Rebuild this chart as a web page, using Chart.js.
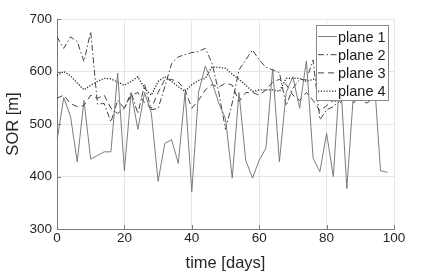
<!DOCTYPE html>
<html>
<head>
<meta charset="utf-8">
<script src="https://cdn.jsdelivr.net/npm/chart.js@4/dist/chart.umd.min.js"></script>
<style>
    html, body { margin: 0; padding: 0; background: #fff; }
    #wrap { width: 436px; height: 273px; }
</style>
</head>
<body>
<div id="wrap"><canvas id="c" width="436" height="273"></canvas></div>
<script>
// sample days (every 2 days)
const days = [0, 2, 4, 6, 8, 10, 12, 14, 16, 18, 20, 22, 24, 26, 28, 30, 32, 34, 36, 38,
    40, 42, 44, 46, 48, 50, 52, 54, 56, 58, 60, 62, 64, 66, 68, 70, 72, 74, 76, 78,
    80, 82, 84, 86, 88, 90, 92, 94, 96, 98];

const plane1 = [469, 550, 515, 428, 545, 433, 440, 447, 447, 597, 411, 560, 490, 560, 520, 391, 463, 470, 425, 560,
    371, 560, 610, 580, 540, 510, 397, 560, 431, 397, 431, 454, 605, 428, 560, 590, 530, 620, 435, 409,
    482, 400, 600, 377, 560, 570, 560, 600, 411, 408];
const plane2 = [666, 644, 666, 657, 619, 676, 538, 539, 504, 545, 530, 560, 520, 575, 527, 530, 571, 615, 628, 632,
    636, 638, 644, 616, 560, 490, 540, 603, 622, 641, 622, 608, 603, 598, 535, 568, 585, 584, 622, 508,
    527, 533, 545, 560, 540, 555, 550, 580, 560, 555];
const plane3 = [549, 555, 539, 533, 535, 555, 549, 555, 530, 520, 530, 555, 560, 540, 530, 560, 585, 585, 580, 565,
    530, 545, 565, 575, 570, 578, 574, 543, 560, 560, 555, 565, 580, 585, 575, 555, 545, 560, 545, 525,
    535, 545, 540, 555, 550, 545, 540, 550, 545, 545];
const plane4 = [592, 600, 592, 578, 565, 574, 581, 587, 586, 580, 574, 581, 590, 568, 555, 581, 590, 581, 571, 562,
    575, 583, 587, 609, 608, 606, 595, 585, 574, 562, 565, 565, 565, 562, 587, 587, 587, 581, 585, 590,
    580, 575, 590, 585, 580, 575, 580, 585, 580, 580];

const seriesNames = ['plane 1', 'plane 2', 'plane 3', 'plane 4'];
const xTicks = [0, 20, 40, 60, 80, 100];
const yTicks = [300, 400, 500, 600, 700];

const FONT = '"Liberation Sans", Arial, sans-serif';

function pts(vals) {
    return vals.map((v, i) => ({ x: days[i], y: v }));
}

const lineStyles = [
    { color: '#6e6e6e', dash: [], width: 0.9 },
    { color: '#2e2e2e', dash: [6, 2.5, 1.5, 2.5], width: 0.9 },
    { color: '#2e2e2e', dash: [6, 4], width: 0.9 },
    { color: '#262626', dash: [1.2, 1.6], width: 1.3 }
];

const datasets = [plane1, plane2, plane3, plane4].map((vals, i) => ({
    label: seriesNames[i],
    data: pts(vals),
    borderColor: lineStyles[i].color,
    borderDash: lineStyles[i].dash,
    borderWidth: lineStyles[i].width,
    pointRadius: 0,
    tension: 0,
    fill: false
}));

// inward tick marks + legend box drawn inside the plot area
const extras = {
    id: 'extras',
    afterDraw(chart) {
        const ctx = chart.ctx;
        const xs = chart.scales.x, ys = chart.scales.y;
        const area = chart.chartArea;
        ctx.save();
        ctx.strokeStyle = '#7a7a7a';
        ctx.lineWidth = 1;
        ctx.beginPath();
        xTicks.forEach(t => {
            const px = Math.round(xs.getPixelForValue(t)) + 0.5;
            ctx.moveTo(px, area.bottom);
            ctx.lineTo(px, area.bottom - 4);
        });
        yTicks.forEach(t => {
            const py = Math.round(ys.getPixelForValue(t)) + 0.5;
            ctx.moveTo(area.left, py);
            ctx.lineTo(area.left + 4, py);
        });
        ctx.stroke();

        // legend
        const bx = 316.5, by = 25.5, bw = 72, bh = 75;
        ctx.fillStyle = '#fff';
        ctx.fillRect(bx, by, bw, bh);
        ctx.strokeStyle = '#8a8a8a';
        ctx.lineWidth = 1;
        ctx.strokeRect(bx, by, bw, bh);
        ctx.font = '14.5px ' + FONT;
        ctx.textBaseline = 'middle';
        ctx.textAlign = 'left';
        seriesNames.forEach((name, i) => {
            const y = 36.5 + i * 18.2;
            ctx.strokeStyle = lineStyles[i].color;
            ctx.lineWidth = lineStyles[i].width;
            ctx.setLineDash(lineStyles[i].dash);
            ctx.beginPath();
            ctx.moveTo(318, y);
            ctx.lineTo(337, y);
            ctx.stroke();
            ctx.setLineDash([]);
            ctx.fillStyle = '#1a1a1a';
            ctx.fillText(name, 338, y + 1);
        });
        ctx.restore();
    }
};

new Chart(document.getElementById('c'), {
    type: 'line',
    data: { datasets: datasets },
    options: {
        responsive: false,
        animation: false,
        layout: { padding: { top: 19, right: 42, left: 0, bottom: 0 } },
        plugins: {
            legend: { display: false },
            tooltip: { enabled: false }
        },
        scales: {
            x: {
                type: 'linear',
                min: 0,
                max: 100,
                afterBuildTicks: s => { s.ticks = xTicks.map(v => ({ value: v })); },
                afterFit: s => { s.height = 44; },
                ticks: { color: '#262626', font: { family: FONT, size: 13.5 }, padding: 1, maxRotation: 0 },
                grid: { color: '#e6e6e6', lineWidth: 1, drawTicks: false },
                border: { color: '#7a7a7a', width: 1 },
                title: {
                    display: true,
                    text: 'time [days]',
                    color: '#262626',
                    font: { family: FONT, size: 16.5 },
                    padding: { top: 2, bottom: 0 }
                }
            },
            y: {
                min: 300,
                max: 700,
                afterBuildTicks: s => { s.ticks = yTicks.map(v => ({ value: v })); },
                afterFit: s => { s.width = 57; },
                ticks: { color: '#262626', font: { family: FONT, size: 13.5 }, padding: 5 },
                grid: { color: '#e6e6e6', lineWidth: 1, drawTicks: false },
                border: { color: '#7a7a7a', width: 1 },
                title: {
                    display: true,
                    text: 'SOR [m]',
                    color: '#262626',
                    font: { family: FONT, size: 16.5 },
                    padding: { top: 4, bottom: 0 }
                }
            }
        }
    },
    plugins: [extras]
});
</script>
</body>
</html>
